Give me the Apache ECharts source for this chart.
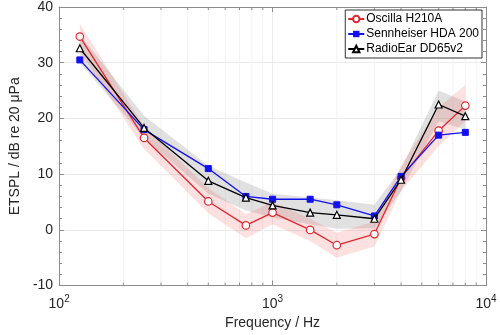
<!DOCTYPE html>
<html><head><meta charset="utf-8">
<script src="https://cdn.jsdelivr.net/npm/echarts@6/dist/echarts.min.js"></script>
<style>html,body{margin:0;padding:0;background:#fff}#c{width:500px;height:335px}</style>
</head><body><div id="c"></div>
<script>
var freqs = [125, 250, 500, 750, 1000, 1500, 2000, 3000, 4000, 6000, 8000];
var oscilla = [34.7, 16.5, 5.1, 0.8, 3.1, 0.0, -2.75, -0.75, 9.3, 17.8, 22.3];
var sennheiser = [30.5, 18.0, 11.0, 6.0, 5.5, 5.5, 4.5, 2.5, 9.6, 17.0, 17.5];
var radioear = [32.6, 18.3, 8.8, 5.8, 4.4, 3.1, 2.7, 2.0, 9.0, 22.5, 20.4];
var oscillaLow = [32, 14.5, 3, -1.5, 1, -2, -5, -3, 7, 15, 19.5];
var oscillaHigh = [37, 18.5, 7.5, 2.8, 5, 2, -0.5, 1.5, 11.5, 22, 26];
var radioearLow = [30, 16.5, 6.5, 3.5, 2.2, 1, 0.2, 0.3, 7, 19.5, 18];
var radioearHigh = [35, 20.5, 11.5, 8.5, 6.5, 5.8, 5.3, 4.5, 11, 25, 23];
var seriesNames = ['Oscilla H210A', 'Sennheiser HDA 200', 'RadioEar DD65v2'];
var minorFreqs = [200,300,400,500,600,700,800,900,2000,3000,4000,5000,6000,7000,8000,9000];

function pairs(v){ return freqs.map(function(f,i){ return [f, v[i]]; }); }

var chart = echarts.init(document.getElementById('c'), null, {renderer:'canvas'});
var textColor = '#262626';
var axisColor = '#8c8c8c';
var FONT = 'Liberation Sans, Arial';

function bandSeries(lo, hi, color){
  return {
    type:'custom', silent:true, z:1,
    data: freqs.map(function(f,i){ return [f, lo[i], hi[i]]; }),
    encode:{x:0, y:[1,2]},
    renderItem:function(params, api){
      if (params.dataIndex !== 0) return null;
      var pts = [];
      for (var i = 0; i < freqs.length; i++) pts.push(api.coord([freqs[i], hi[i]]));
      for (var j = freqs.length - 1; j >= 0; j--) pts.push(api.coord([freqs[j], lo[j]]));
      return {type:'polygon', shape:{points:pts}, style:{fill:color}};
    }
  };
}

var option = {
  animation:false,
  grid:{left:41, right:14, top:7, bottom:45, show:false},
  legend:{
    data:seriesNames, orient:'vertical', right:18, top:10,
    backgroundColor:'#fff', borderColor:'#333', borderWidth:1, padding:[3,3,3,2],
    itemGap:3, itemWidth:16, itemHeight:8,
    textStyle:{fontFamily:FONT, fontSize:12, color:'#000', padding:[0,0,0,-3]}
  },
  xAxis:[
    {type:'log', logBase:10, min:100, max:10000, position:'bottom',
     name:'Frequency / Hz', nameLocation:'middle', nameGap:27,
     nameTextStyle:{fontFamily:FONT, fontSize:14, color:textColor},
     axisLine:{show:true, onZero:false, lineStyle:{color:axisColor}},
     axisTick:{show:true, inside:true, length:5, lineStyle:{color:axisColor}},
     splitLine:{show:true, lineStyle:{color:'#ebebeb'}},
     axisLabel:{margin:9, fontFamily:FONT, fontSize:14, color:textColor,
       formatter:function(v){ return '10{s|' + Math.round(Math.log10(v)) + '}'; },
       rich:{s:{fontSize:10, verticalAlign:'top', padding:[0,0,9,0], fontFamily:FONT, color:textColor}}}
    },
    {type:'log', logBase:10, min:100, max:10000, position:'top',
     axisLine:{show:true, onZero:false, lineStyle:{color:axisColor}},
     axisTick:{show:true, inside:true, length:5, lineStyle:{color:axisColor}},
     axisLabel:{show:false}, splitLine:{show:false}}
  ],
  yAxis:[
    {type:'value', min:-10, max:40, interval:10, position:'left',
     name:'ETSPL / dB re 20 \u03bcPa', nameLocation:'middle', nameGap:28,
     nameTextStyle:{fontFamily:FONT, fontSize:14, color:textColor},
     axisLine:{show:true, onZero:false, lineStyle:{color:axisColor}},
     axisTick:{show:true, inside:true, length:5, lineStyle:{color:axisColor}},
     minorTick:{show:true, splitNumber:5, length:3, lineStyle:{color:axisColor}},
     splitLine:{show:true, lineStyle:{color:'#ebebeb'}},
     axisLabel:{margin:6, fontFamily:FONT, fontSize:14, color:textColor}
    },
    {type:'value', min:-10, max:40, interval:10, position:'right',
     axisLine:{show:true, onZero:false, lineStyle:{color:axisColor}},
     axisTick:{show:true, inside:true, length:5, lineStyle:{color:axisColor}},
     minorTick:{show:true, splitNumber:5, length:3, lineStyle:{color:axisColor}},
     axisLabel:{show:false}, splitLine:{show:false}}
  ],
  series: [
    {type:'custom', silent:true, z:0,
      data: minorFreqs.map(function(f){ return [f, 0]; }),
      renderItem:function(params, api){
        var f = api.value(0);
        var top = api.coord([f, 40]);
        var bot = api.coord([f, -10]);
        return {type:'group', children:[
          {type:'line', shape:{x1:top[0], y1:top[1], x2:bot[0], y2:bot[1]}, style:{stroke:'#f3f3f3', lineWidth:1}},
          {type:'line', shape:{x1:bot[0], y1:bot[1], x2:bot[0], y2:bot[1]-3}, style:{stroke:axisColor, lineWidth:1}},
          {type:'line', shape:{x1:top[0], y1:top[1], x2:top[0], y2:top[1]+3}, style:{stroke:axisColor, lineWidth:1}}
        ]};
      }},
    bandSeries(radioearLow, radioearHigh, 'rgba(120,120,120,0.22)'),
    bandSeries(oscillaLow, oscillaHigh, 'rgba(240,70,70,0.16)'),
    {name:seriesNames[0], type:'line', data:pairs(oscilla), z:5,
     color:'#e3262e', symbol:'circle', symbolSize:7.5,
     itemStyle:{color:'#fff', borderColor:'#e3262e', borderWidth:1.2},
     lineStyle:{color:'#e3262e', width:1.3}},
    {name:seriesNames[1], type:'line', data:pairs(sennheiser), z:5,
     color:'#1010f0', symbol:'rect', symbolSize:6,
     itemStyle:{color:'#1010f0', borderColor:'#1010f0'},
     lineStyle:{color:'#1010f0', width:1.3}},
    {name:seriesNames[2], type:'line', data:pairs(radioear), z:6,
     color:'#000', symbol:'triangle', symbolSize:7,
     itemStyle:{color:'#fff', borderColor:'#000', borderWidth:1.2},
     lineStyle:{color:'#000', width:1.3}}
  ]
};
chart.setOption(option);
</script>
</body></html>
